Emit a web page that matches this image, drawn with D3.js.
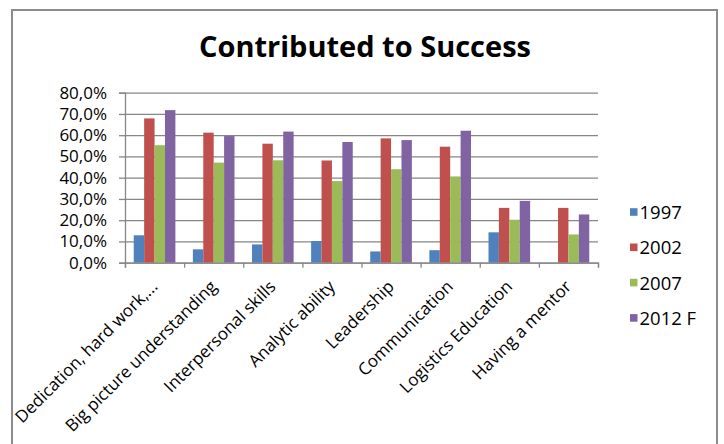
<!DOCTYPE html>
<html>
<head>
<meta charset="utf-8">
<script src="https://cdn.jsdelivr.net/npm/d3@7"></script>
<style>
  html, body { margin: 0; padding: 0; background: #fff; }
  svg { display: block; }
  text { font-family: "Open Sans", "Noto Sans", sans-serif; fill: #000; }
</style>
</head>
<body>
<svg id="chart" width="724" height="444"></svg>
<script>
// Survey: factors that contributed to success, share of respondents (%)
const categories = [
  "Dedication, hard work,...",
  "Big picture understanding",
  "Interpersonal skills",
  "Analytic ability",
  "Leadership",
  "Communication",
  "Logistics Education",
  "Having a mentor"
];
const seriesNames = ["1997", "2002", "2007", "2012 F"];
const values1997 = [12.9, 6.3, 8.6, 10.2, 5.3, 5.9, 14.3, 0];
const values2002 = [67.9, 61.2, 56.0, 48.1, 58.5, 54.6, 25.8, 25.8];
const values2007 = [55.3, 47.1, 48.2, 38.4, 44.0, 40.6, 20.2, 13.3];
const values2012 = [71.8, 59.6, 61.7, 56.8, 57.7, 62.1, 29.1, 22.7];
const yTicks = [0, 10, 20, 30, 40, 50, 60, 70, 80];
const colors = ["#4F81BD", "#C0504D", "#9BBB59", "#8064A2"];

const seriesValues = [values1997, values2002, values2007, values2012];
const rows = categories.map((c, i) => ({
  category: c,
  values: seriesNames.map((s, k) => ({ series: s, value: seriesValues[k][i] }))
}));

const svg = d3.select("#chart");
const plot = { left: 125, right: 598, top: 92.7, bottom: 262.7 };
const gridColor = "#868686";

// Chart area frame
svg.append("rect")
  .attr("x", 12).attr("y", 10)
  .attr("width", 705).attr("height", 500)
  .attr("fill", "#fff")
  .attr("stroke", "#8c8c8c")
  .attr("stroke-width", 2);

// Title
svg.append("text")
  .attr("x", 365).attr("y", 57)
  .attr("text-anchor", "middle")
  .style("font-size", "29px")
  .style("font-weight", "bold")
  .text("Contributed to Success");

const y = d3.scaleLinear().domain([0, 80]).range([plot.bottom, plot.top]);
const x0 = d3.scaleBand().domain(categories).range([plot.left, plot.right]).padding(0);
const x1 = d3.scaleBand().domain(seriesNames).range([0, x0.bandwidth()])
  .paddingInner(0).paddingOuter(0.84);
const xEdge = d3.scaleLinear().domain([0, categories.length]).range([plot.left, plot.right]);

// Horizontal gridlines
svg.append("g")
  .attr("transform", `translate(${plot.left},0)`)
  .call(d3.axisLeft(y).tickValues(yTicks).tickSize(-(plot.right - plot.left)).tickFormat(""))
  .call(g => g.select(".domain").remove())
  .call(g => g.selectAll("line").attr("stroke", gridColor).attr("stroke-width", 1.3));

// Y axis with ticks and labels
svg.append("g")
  .attr("transform", `translate(${plot.left},0)`)
  .call(d3.axisLeft(y).tickValues(yTicks).tickSize(6).tickPadding(12)
    .tickFormat(d => d.toFixed(1).replace(".", ",") + "%"))
  .call(g => g.select(".domain").attr("stroke", gridColor).attr("stroke-width", 1.3))
  .call(g => g.selectAll("line").attr("stroke", gridColor).attr("stroke-width", 1.3))
  .call(g => g.selectAll("text")
    .style("font-size", "17px")
    .style("font-family", "'Open Sans', sans-serif")
    .attr("fill", "#000"));

// Bars
const groups = svg.append("g").selectAll("g")
  .data(rows)
  .join("g")
  .attr("transform", d => `translate(${x0(d.category)},0)`);

groups.selectAll("rect")
  .data(d => d.values)
  .join("rect")
  .attr("x", d => x1(d.series))
  .attr("width", x1.bandwidth())
  .attr("y", d => y(d.value))
  .attr("height", d => y(0) - y(d.value))
  .attr("fill", (d, i) => colors[i]);

// X axis: tick marks at category boundaries
svg.append("g")
  .attr("transform", `translate(0,${plot.bottom})`)
  .call(d3.axisBottom(xEdge).tickValues(d3.range(categories.length + 1)).tickSize(5).tickFormat(""))
  .call(g => g.select(".domain").attr("stroke", gridColor).attr("stroke-width", 1.3))
  .call(g => g.selectAll("line").attr("stroke", gridColor).attr("stroke-width", 1.3));

// Rotated category labels
svg.append("g").selectAll("text")
  .data(categories)
  .join("text")
  .attr("text-anchor", "end")
  .style("font-size", "17px")
  .attr("transform", d => `translate(${x0(d) + x0.bandwidth() / 2 + 4},${plot.bottom + 25}) rotate(-45)`)
  .text(d => d);

// Legend
const legend = svg.append("g").selectAll("g")
  .data(seriesNames)
  .join("g")
  .attr("transform", (d, i) => `translate(630,${212 + i * 35.3})`);
legend.append("rect")
  .attr("x", 0).attr("y", -3.8)
  .attr("width", 7.5).attr("height", 7.6)
  .attr("fill", (d, i) => colors[i]);
legend.append("text")
  .attr("x", 9.5).attr("y", 2)
  .attr("dominant-baseline", "middle")
  .style("font-size", "18.5px")
  .text(d => d);
</script>
</body>
</html>
